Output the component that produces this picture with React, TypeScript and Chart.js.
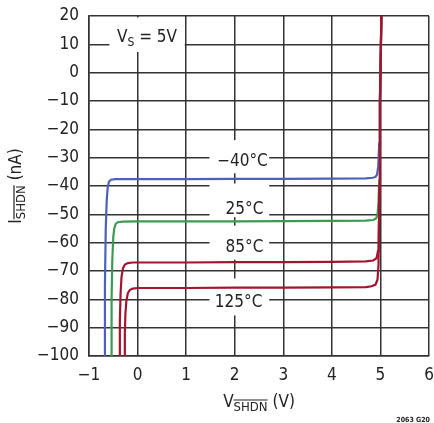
import React, { useEffect, useRef } from "react";
import { Chart, registerables } from "chart.js";

Chart.register(...registerables);

// ---- data ----
const xTickValues = [-1, 0, 1, 2, 3, 4, 5, 6];
const xTickLabels = ["−1", "0", "1", "2", "3", "4", "5", "6"];
const yTickValues = [20, 10, 0, -10, -20, -30, -40, -50, -60, -70, -80, -90, -100];
const yTickLabels = ["20", "10", "0", "−10", "−20", "−30", "−40", "−50", "−60", "−70", "−80", "−90", "−100"];

const seriesNames = ["−40°C", "25°C", "85°C", "125°C"];

const m40X = [-0.685, -0.672, -0.655, -0.635, -0.615, -0.59, -0.55, -0.45, 0, 1, 2, 3, 4, 4.7, 4.84, 4.9, 4.93, 4.955, 4.975, 4.99, 5.0, 5.02];
const m40Y = [-100, -75, -55, -45, -40.5, -38.5, -37.8, -37.6, -37.6, -37.6, -37.5, -37.5, -37.4, -37.3, -37.1, -36.8, -36, -33, -25, -10, 0, 20];

const p25X = [-0.545, -0.535, -0.52, -0.5, -0.48, -0.45, -0.41, -0.3, 0, 1, 2, 3, 4, 4.7, 4.85, 4.91, 4.94, 4.96, 4.975, 4.99, 5.0, 5.02];
const p25Y = [-100, -80, -66, -58, -55, -53.4, -52.8, -52.6, -52.5, -52.5, -52.5, -52.4, -52.3, -52.2, -52, -51.5, -50, -46, -38, -10, 0, 20];

const p85X = [-0.375, -0.365, -0.35, -0.33, -0.3, -0.26, -0.2, -0.1, 0, 1, 2, 3, 4, 4.7, 4.85, 4.92, 4.95, 4.965, 4.98, 4.99, 5.0, 5.02];
const p85Y = [-100, -88, -78, -72, -69, -67.7, -67.2, -67, -67, -67, -66.9, -66.9, -66.8, -66.6, -66.3, -65.5, -63, -58, -40, -10, 0, 20];

const p125X = [-0.27, -0.262, -0.25, -0.23, -0.2, -0.16, -0.1, 0, 1, 2, 3, 4, 4.7, 4.82, 4.9, 4.94, 4.96, 4.98, 4.99, 5.0, 5.02];
const p125Y = [-100, -92, -85, -80.5, -77.8, -76.7, -76.2, -76, -76, -75.9, -75.9, -75.8, -75.7, -75.4, -74.8, -73, -68, -40, -10, 0, 20];

const condition = "5V";

// ---- styling / annotation layout ----
const FONT = "'Liberation Sans Narrow', 'Arial Narrow', 'DejaVu Sans Condensed', 'Roboto Condensed', 'Liberation Sans', sans-serif";
const GRID = "#333333";
const seriesColors = ["#a3152f", "#a3152f", "#3d9a52", "#4a62b8"]; // for 125, 85, 25, -40

const labelPos = [
  { x: 2.16, y: -31.4 },
  { x: 2.2, y: -48.4 },
  { x: 2.2, y: -61.8 },
  { x: 2.08, y: -81.2 },
];

const mk = (xs: number[], ys: number[]) => xs.map((x, i) => ({ x, y: ys[i] }));

const annotationPlugin = {
  id: "annot",
  beforeDatasetsDraw(chart: any) {
    const { ctx } = chart;
    const xs = chart.scales.x;
    const ys = chart.scales.y;
    const px = (v: number) => xs.getPixelForValue(v);
    const py = (v: number) => ys.getPixelForValue(v);
    ctx.save();
    ctx.fillStyle = "#ffffff";
    for (const v of [-30, -40, -50, -60, -80]) {
      ctx.fillRect(px(1.48), py(v) - 2.5, px(2.71) - px(1.48), 5);
    }
    for (const [a, b] of [[-23.8, -35.5], [-39.7, -51.0], [-54.0, -66.0], [-72.6, -85.7]]) {
      ctx.fillRect(px(2) - 2.5, py(a), 5, py(b) - py(a));
    }
    ctx.fillRect(px(-0.58), py(10) - 2.5, px(0.97) - px(-0.58), 5);
    ctx.fillRect(px(0) - 2.5, py(20) + 1.5, 5, py(7.3) - py(20) - 1.5);

    ctx.fillStyle = "#222";
    ctx.font = `17px ${FONT}`;
    ctx.textAlign = "center";
    ctx.textBaseline = "middle";
    seriesNames.forEach((t, i) => {
      ctx.fillText(t, px(labelPos[i].x), py(labelPos[i].y));
    });

    ctx.textAlign = "left";
    ctx.textBaseline = "alphabetic";
    let cx = 117;
    const by = 42;
    ctx.font = `17px ${FONT}`;
    ctx.fillText("V", cx, by);
    cx += ctx.measureText("V").width;
    ctx.font = `12px ${FONT}`;
    ctx.fillText("S", cx, by + 4);
    cx += ctx.measureText("S").width;
    ctx.font = `17px ${FONT}`;
    ctx.fillText(" = " + condition, cx, by);
    ctx.restore();
  },
  afterDraw(chart: any) {
    const { ctx, chartArea } = chart;
    ctx.save();
    ctx.fillStyle = "#222";
    ctx.strokeStyle = "#222";
    ctx.lineWidth = 1.2;
    ctx.textBaseline = "alphabetic";
    ctx.textAlign = "left";

    const drawTitle = (main: string, sub: string, rest: string) => {
      ctx.font = `17px ${FONT}`;
      const w1 = ctx.measureText(main).width;
      const w3 = ctx.measureText(rest).width;
      ctx.font = `13px ${FONT}`;
      const w2 = ctx.measureText(sub).width;
      let x0 = -(w1 + w2 + w3) / 2;
      ctx.font = `17px ${FONT}`;
      ctx.fillText(main, x0, 0);
      x0 += w1;
      ctx.font = `13px ${FONT}`;
      ctx.fillText(sub, x0, 4);
      ctx.beginPath();
      ctx.moveTo(x0, 4 - 11);
      ctx.lineTo(x0 + w2, 4 - 11);
      ctx.stroke();
      x0 += w2;
      ctx.font = `17px ${FONT}`;
      ctx.fillText(rest, x0, 0);
    };
    const cxm = (chartArea.left + chartArea.right) / 2;
    ctx.save();
    ctx.translate(cxm, 407);
    drawTitle("V", "SHDN", " (V)");
    ctx.restore();

    ctx.save();
    ctx.translate(21, (chartArea.top + chartArea.bottom) / 2);
    ctx.rotate(-Math.PI / 2);
    drawTitle("I", "SHDN", " (nA)");
    ctx.restore();

    ctx.font = `bold 7px ${FONT}`;
    ctx.textAlign = "right";
    ctx.fillText("2063 G20", 430, 422);
    ctx.restore();
  },
};

export default function App() {
  const ref = useRef<HTMLCanvasElement | null>(null);
  useEffect(() => {
    if (!ref.current) return;
    const ds = [mk(p125X, p125Y), mk(p85X, p85Y), mk(p25X, p25Y), mk(m40X, m40Y)];
    const names = [seriesNames[3], seriesNames[2], seriesNames[1], seriesNames[0]];
    const chart = new Chart(ref.current, {
      type: "line",
      data: {
        datasets: ds.map((d, i) => ({
          label: names[i],
          data: d,
          borderColor: seriesColors[i],
          backgroundColor: seriesColors[i],
          borderWidth: 2.2,
          pointRadius: 0,
          tension: 0,
          fill: false,
        })),
      },
      options: {
        responsive: false,
        animation: false,
        devicePixelRatio: 1,
        layout: { padding: { top: 16, right: 5, left: 0, bottom: 0 } },
        plugins: { legend: { display: false }, tooltip: { enabled: false } },
        scales: {
          x: {
            type: "linear",
            min: -1,
            max: 6,
            afterFit: (s: any) => { s.height = 67; s.paddingLeft = 0; s.paddingRight = 0; },
            afterBuildTicks: (s: any) => { s.ticks = xTickValues.map((v) => ({ value: v })); },
            grid: { color: GRID, lineWidth: 1.5, drawTicks: false },
            border: { color: GRID, width: 1.5 },
            ticks: {
              padding: 9,
              color: "#222",
              font: { family: FONT, size: 17 },
              callback: (v: any) => xTickLabels[xTickValues.indexOf(Number(v))] ?? "",
            },
          },
          y: {
            type: "linear",
            min: -100,
            max: 20,
            afterFit: (s: any) => { s.width = 89; s.paddingTop = 0; s.paddingBottom = 0; },
            afterBuildTicks: (s: any) => { s.ticks = yTickValues.slice().reverse().map((v) => ({ value: v })); },
            grid: { color: GRID, lineWidth: 1.5, drawTicks: false },
            border: { color: GRID, width: 1.5 },
            ticks: {
              padding: 10,
              color: "#222",
              font: { family: FONT, size: 17 },
              callback: (v: any) => yTickLabels[yTickValues.indexOf(Number(v))] ?? "",
            },
          },
        },
      },
      plugins: [annotationPlugin],
    } as any);
    return () => chart.destroy();
  }, []);
  return (
    <div style={{ position: "absolute", left: 0, top: 0, width: 434, height: 423, background: "#fff" }}>
      <canvas ref={ref} width={434} height={423} style={{ display: "block" }} />
    </div>
  );
}
